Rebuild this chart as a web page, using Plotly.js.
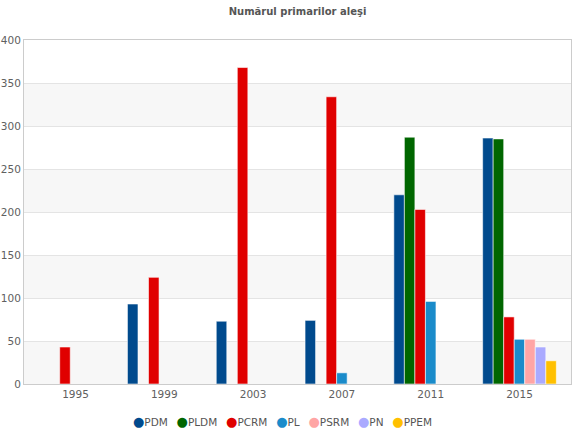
<!DOCTYPE html>
<html>
<head>
<meta charset="utf-8">
<script src="https://cdn.plot.ly/plotly-3.0.1.min.js"></script>
<style>
  html, body { margin: 0; padding: 0; background: #fff; }
  #divPlot { width: 572px; height: 435px; }
</style>
</head>
<body>
<div id="divPlot"></div>
<script>
const years = [ '1995', '1999', '2003', '2007', '2011', '2015' ];

const PDM = [ null, 93, 73, 74, 220, 286 ];
const PLDM = [ null, null, null, null, 287, 285 ];
const PCRM = [ 43, 124, 368, 334, 203, 78 ];
const PL = [ null, null, null, 13, 96, 52 ];
const PSRM = [ null, null, null, null, null, 52 ];
const PN = [ null, null, null, null, null, 43 ];
const PPEM = [ null, null, null, null, null, 27 ];

const seriesNames = [ 'PDM', 'PLDM', 'PCRM', 'PL', 'PSRM', 'PN', 'PPEM' ];
const seriesValues = [ PDM, PLDM, PCRM, PL, PSRM, PN, PPEM ];
const seriesColors =
    [ '#004a8d', '#006600', '#e00000', '#1a8bca', '#ffa5a5', '#aaaaff', '#ffc000' ];

const yTicks = [ 0, 50, 100, 150, 200, 250, 300, 350, 400 ];

const font = 'DejaVu Sans, Verdana, sans-serif';

const data = seriesNames.map((name, i) => ({
  x : years,
  y : seriesValues[i],
  type : 'bar',
  name : name,
  marker : {color : seriesColors[i], line : {color : 'rgba(255,255,255,0.7)', width : 0.8}},
  showlegend : false
}));

// light bands on every other grid step, like the source chart
const bands = [];
for (let i = 0; i + 1 < yTicks.length; i += 2) {
  bands.push({
    type : 'rect',
    xref : 'paper',
    yref : 'y',
    x0 : 0,
    x1 : 1,
    y0 : yTicks[i],
    y1 : yTicks[i + 1],
    fillcolor : '#f7f7f7',
    line : {width : 0},
    layer : 'below'
  });
}

// compact legend with round markers, as one line of text
const legendText = seriesNames
    .map((name, i) => '<span style="color:' + seriesColors[i] +
                      ';font-size:13px">\u25CF</span>' + name)
    .join('\u00a0\u00a0\u2009');

const layout = {
  width : 572,
  height : 435,
  margin : {l : 24, r : 1, t : 40, b : 51},
  paper_bgcolor : '#fff',
  plot_bgcolor : '#fff',
  font : {family : font, size : 10, color : '#606060'},
  title : {
    text : '<b>Numărul primarilor aleşi</b>',
    font : {family : font, size : 10, color : '#555'},
    x : 0.5,
    xref : 'paper',
    y : 0.974,
    yref : 'container',
    yanchor : 'middle'
  },
  barmode : 'group',
  bargap : 0.17,
  bargroupgap : 0,
  xaxis : {
    type : 'category',
    range : [ -0.58, 5.58 ],
    showline : true,
    mirror : true,
    linecolor : '#cccccc',
    linewidth : 1,
    showgrid : false,
    ticks : '',
    tickfont : {family : font, size : 10.5, color : '#606060'},
    fixedrange : true
  },
  yaxis : {
    range : [ 0, 400 ],
    tickvals : yTicks,
    showline : true,
    mirror : true,
    linecolor : '#cccccc',
    linewidth : 1,
    gridcolor : '#e4e4e4',
    zeroline : false,
    ticks : '',
    tickfont : {family : font, size : 10.5, color : '#606060'},
    fixedrange : true
  },
  shapes : bands,
  annotations : [ {
    text : legendText,
    xref : 'paper',
    yref : 'paper',
    x : 0.472,
    y : -0.108,
    xanchor : 'center',
    yanchor : 'middle',
    showarrow : false,
    font : {family : font, size : 10.5, color : '#555'}
  } ]
};

Plotly.newPlot('divPlot', data, layout, {displayModeBar : false, staticPlot : true});
</script>
</body>
</html>
